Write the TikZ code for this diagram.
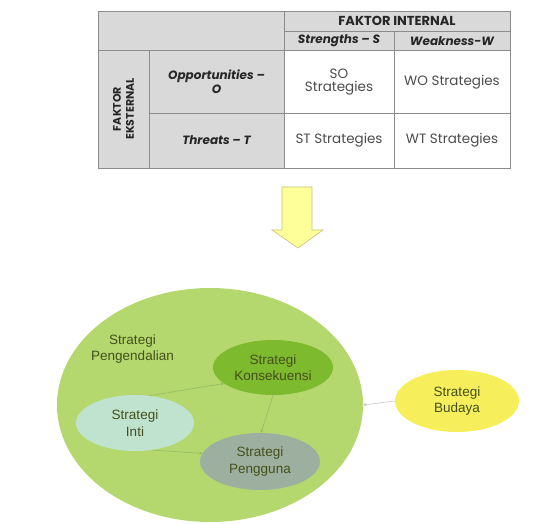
\documentclass[tikz,border=0pt]{standalone}
\usepackage{fontspec}
\setmainfont{Liberation Sans}
\newfontfamily\tabfont{Poppins}
\usetikzlibrary{shapes.geometric,arrows.meta}
\definecolor{hdr}{HTML}{D9D9D9}
\definecolor{gridc}{HTML}{8C8C8C}
\definecolor{bigg}{HTML}{B4D86E}
\definecolor{konc}{HTML}{7DBA2E}
\definecolor{intic}{HTML}{BFE3CF}
\definecolor{pengc}{HTML}{9DAF9E}
\definecolor{budc}{HTML}{F7EE5C}
\definecolor{txtc}{HTML}{44501C}
\definecolor{arrc}{HTML}{FFFF99}
\definecolor{arrb}{HTML}{C8C080}
\tikzset{
  cell/.style={inner sep=0pt, align=center, font=\tabfont\fontsize{13.5}{12.5}\selectfont, text=black!70},
  hcell/.style={cell, font=\tabfont\bfseries\itshape\fontsize{12}{13.5}\selectfont, text=black!85},
  ell/.style={ellipse, draw=none, inner sep=0pt, align=center, font=\fontsize{13.5}{16.5}\selectfont, text=txtc},
  conn/.style={draw=konc!80!black!70, line width=0.5pt, -{Stealth[length=3pt,width=3pt]}},
}
\begin{document}
\begin{tikzpicture}[x=1pt,y=-1pt]
\useasboundingbox (0,0) rectangle (555,524);
\fill[white] (0,0) rectangle (555,524);
% table backgrounds
\fill[hdr] (98,11) rectangle (510,50);
\fill[hdr] (98,50) rectangle (284,168);
\fill[white] (284,50) rectangle (510,168);
% grid lines
\draw[gridc, line width=0.6pt] (98,11) rectangle (510,168);
\draw[gridc, line width=0.6pt] (284,11) -- (284,168);
\draw[gridc, line width=0.6pt] (284,31) -- (510,31);
\draw[gridc, line width=0.6pt] (98,50) -- (510,50);
\draw[gridc, line width=0.6pt] (149,50) -- (149,168);
\draw[gridc, line width=0.6pt] (394,31) -- (394,168);
\draw[gridc, line width=0.6pt] (149,113) -- (510,113);
% table texts
\node[hcell, font=\tabfont\bfseries\fontsize{13}{14}\selectfont] (fi) at (397,21) {FAKTOR INTERNAL};
\node[hcell] (st) at (339,41) {Strengths \textendash\ S};
\node[hcell] (wk) at (452,41) {Weakness-W};
\node[hcell, font=\tabfont\bfseries\fontsize{11}{13}\selectfont, rotate=90] (fe) at (123.5,109) {FAKTOR\\EKSTERNAL};
\node[hcell] (op) at (216.5,81.5) {Opportunities \textendash\\O};
\node[hcell] (th) at (216.5,140.5) {Threats \textendash\ T};
\node[cell] (so) at (339,82) {SO\\Strategies};
\node[cell] (wo) at (452,82) {WO Strategies};
\node[cell] (stt) at (339,140.5) {ST Strategies};
\node[cell] (wt) at (452,140.5) {WT Strategies};
% big arrow
\draw[arrb, fill=arrc, line width=0.6pt] (282,187) -- (312,187) -- (312,230) -- (323,230) -- (298,248) -- (272,230) -- (282,230) -- cycle;
% ellipses
\node[ellipse, fill=bigg, minimum width=306pt, minimum height=234pt, inner sep=0pt] (big) at (210,405) {};
\node[ell] (peng) at (132.5,349) {Strategi\\Pengendalian};
\node[ell, fill=konc, minimum width=120pt, minimum height=55pt] (kon) at (273,367.5) {Strategi\\Konsekuensi};
\node[ell, fill=intic, minimum width=118pt, minimum height=56pt] (inti) at (135,423) {Strategi\\Inti};
\node[ell, fill=pengc, minimum width=120pt, minimum height=57pt] (pgn) at (260,461.5) {Strategi\\Pengguna};
\node[ell, fill=budc, minimum width=124pt, minimum height=62pt] (bud) at (457,401) {Strategi\\Budaya};
% connectors
\draw[conn] (inti.62) -- (kon.198);
\draw[conn] (kon.south) -- (pgn.88);
\draw[conn] (inti.-58) -- (pgn.172);
\draw[conn, draw=black!25] (bud.west) -- (big.east);
\end{tikzpicture}
\end{document}
